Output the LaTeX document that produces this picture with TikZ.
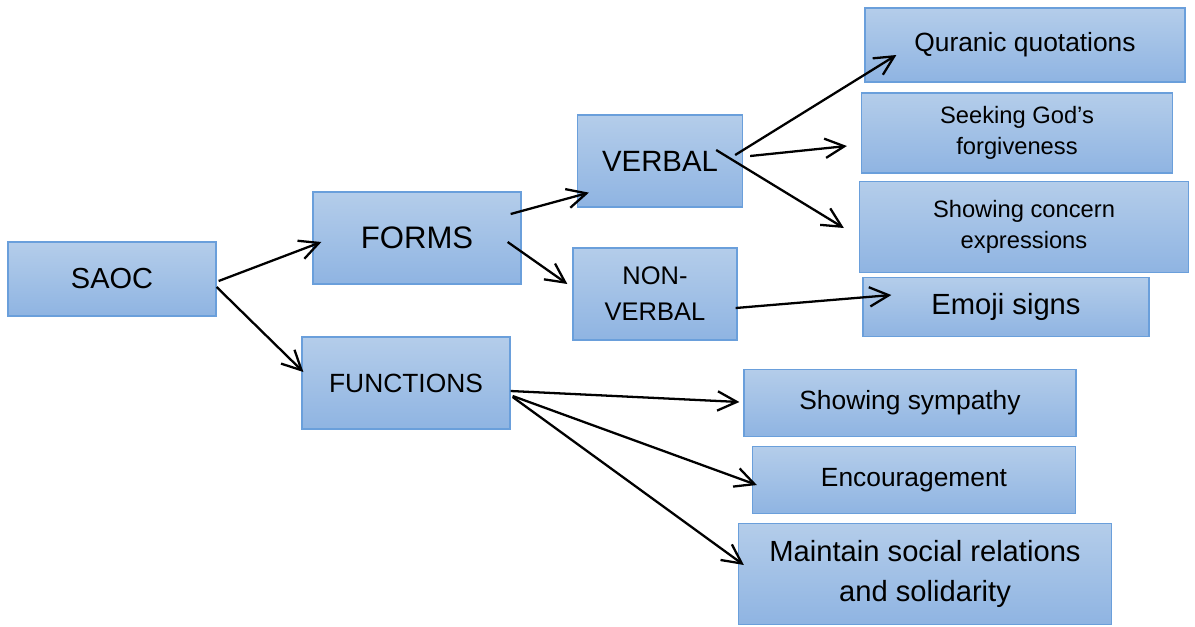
\documentclass[tikz,border=0pt]{standalone}
\usepackage{fontspec}
\setmainfont{Liberation Sans}
\usetikzlibrary{arrows.meta, calc}
\definecolor{boxtop}{HTML}{B4CDEA}
\definecolor{boxbottom}{HTML}{8FB4E2}
\definecolor{boxline}{HTML}{6A9FDB}
\tikzstyle{block} = [rectangle, draw=boxline, line width=0.75pt, top color=boxtop, bottom color=boxbottom, text centered, align=center, inner sep=0pt]
\tikzstyle{arrow} = [-{Straight Barb[length=11pt, width=11pt]}, line width=1.3pt]
\begin{document}
\begin{tikzpicture}[x=0.02cm, y=-0.02cm]
\useasboundingbox (0,0) rectangle (1195,626);
%boxes
\node[block, minimum width=4.16cm, minimum height=1.48cm, font=\fontsize{16.5}{20}\selectfont] (saoc) at (112,279) {SAOC};
\node[block, minimum width=4.16cm, minimum height=1.84cm, font=\fontsize{17.7}{21}\selectfont] (forms) at (417,238) {FORMS};
\node[block, minimum width=4.16cm, minimum height=1.84cm, font=\fontsize{15}{18}\selectfont] (functions) at (406,383) {FUNCTIONS};
\node[block, minimum width=3.3cm, minimum height=1.84cm, font=\fontsize{16.7}{20}\selectfont] (verbal) at (660,161) {VERBAL};
\node[block, minimum width=3.28cm, minimum height=1.84cm, font=\fontsize{14.5}{20.4}\selectfont] (nonverbal) at (655,294) {NON-\\VERBAL};
\node[block, minimum width=6.4cm, minimum height=1.48cm, font=\fontsize{15}{18}\selectfont] (quranic) at (1025,45) {Quranic quotations};
\node[block, minimum width=6.22cm, minimum height=1.6cm, font=\fontsize{13.5}{17.6}\selectfont] (seeking) at (1017,133) {Seeking God’s\\forgiveness};
\node[block, minimum width=6.58cm, minimum height=1.82cm, font=\fontsize{13.5}{17.6}\selectfont] (concern) at (1024,227) {Showing concern\\expressions};
\node[block, minimum width=5.72cm, minimum height=1.18cm, font=\fontsize{16.6}{20}\selectfont] (emoji) at (1006,307) {Emoji signs};
\node[block, minimum width=6.64cm, minimum height=1.34cm, font=\fontsize{15}{18}\selectfont] (sympathy) at (910,403) {Showing sympathy};
\node[block, minimum width=6.46cm, minimum height=1.34cm, font=\fontsize{15}{18}\selectfont] (encourage) at (914,480) {Encouragement};
\node[block, minimum width=7.46cm, minimum height=2.02cm, font=\fontsize{16.6}{22.7}\selectfont] (maintain) at (925,574) {Maintain social relations\\and solidarity};
%arrows
\draw [arrow] ($(saoc.east)+(2,2)$) -- ($(forms.west)+(9,4)$);
\draw [arrow] ($(saoc.east)+(0,8)$) -- ($(functions.west)+(2,-11)$);
\draw [arrow] ($(forms.east)+(-11,-24)$) -- ($(verbal.south west)+(12,-15)$);
\draw [arrow] ($(forms.east)+(-14,4)$) -- ($(nonverbal.west)+(-5,-10)$);
\draw [arrow] ($(verbal.east)+(-8,-6)$) -- ($(quranic.west)+(32,10)$);
\draw [arrow] ($(verbal.east)+(7,-5)$) -- ($(seeking.west)+(-14,13)$);
\draw [arrow] ($(verbal.east)+(-27,-11)$) -- ($(concern.west)+(-15,1)$);
\draw [arrow] ($(nonverbal.east)+(-2,14)$) -- ($(emoji.west)+(29,-12)$);
\draw [arrow] ($(functions.east)+(0,8)$) -- ($(sympathy.west)+(-4,-1)$);
\draw [arrow] ($(functions.east)+(2,13)$) -- ($(encourage.west)+(5,5)$);
\draw [arrow] ($(functions.east)+(2,14)$) -- ($(maintain.west)+(6,-9)$);
\end{tikzpicture}
\end{document}
